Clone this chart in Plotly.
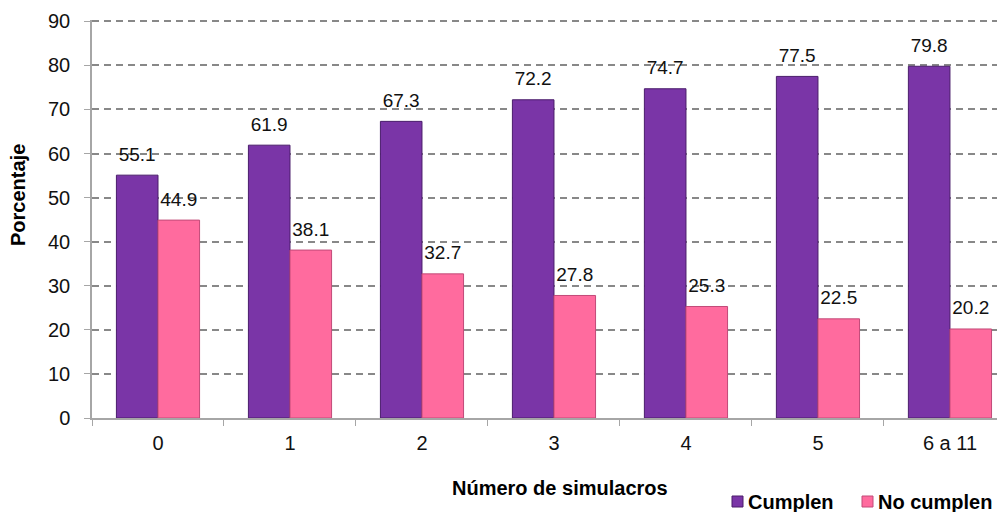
import plotly.graph_objects as go

categories = ["0", "1", "2", "3", "4", "5", "6 a 11"]
cumplen = [55.1, 61.9, 67.3, 72.2, 74.7, 77.5, 79.8]
no_cumplen = [44.9, 38.1, 32.7, 27.8, 25.3, 22.5, 20.2]
y_ticks = [0, 10, 20, 30, 40, 50, 60, 70, 80, 90]
series_names = ["Cumplen", "No cumplen"]
series_colors = ["#7A35A7", "#FF6B9E"]
series_edges = ["#4A1D6B", "#C24A78"]

FONT = "Liberation Sans, Arial"

# Figure sits 8px inside the page (default body margin); plot area spans page x 92..1005, y 20..418
W, H = 997, 504
L, R, T, B = 84, 0, 12, 94
PW, PH = W - L - R, H - T - B


def px(page_x):
    return (page_x - 8 - L) / PW


def py(page_y):
    return (H - B + 8 - page_y) / PH


fig = go.Figure()
for i, (name, vals, col, edge) in enumerate(zip(series_names, [cumplen, no_cumplen], series_colors, series_edges)):
    fig.add_trace(go.Bar(
        name=name, x=categories, y=vals, offsetgroup=str(i),
        marker=dict(color=col, line=dict(color=edge, width=1)),
        showlegend=False,
    ))
for i, (name, vals) in enumerate(zip(series_names, [cumplen, no_cumplen])):
    fig.add_trace(go.Scatter(
        name=name + " labels", x=categories, y=vals, offsetgroup=str(i),
        mode="markers+text", marker=dict(size=14, opacity=0),
        text=[f"{v:.1f}" for v in vals], textposition="top center",
        textfont=dict(family=FONT, size=19, color="#111"),
        cliponaxis=False, showlegend=False, hoverinfo="skip",
    ))

annotations = [
    dict(text="<b>Número de simulacros</b>", xref="paper", yref="paper",
         x=px(560), y=py(488), xanchor="center", yanchor="middle", showarrow=False,
         font=dict(size=20, color="#000")),
    dict(text="<b>Porcentaje</b>", xref="paper", yref="paper", textangle=-90,
         x=px(18), y=py(195), xanchor="center", yanchor="middle", showarrow=False,
         font=dict(size=20, color="#000")),
]
shapes = []
legend_sq_x = [732, 862]
legend_txt_x = [746, 876]
for name, col, edge, sx, tx in zip(series_names, series_colors, series_edges, legend_sq_x, legend_txt_x):
    shapes.append(dict(type="rect", xref="paper", yref="paper",
                       x0=px(sx), x1=px(sx + 11), y0=py(507), y1=py(496),
                       fillcolor=col, line=dict(color=edge, width=1)))
    annotations.append(dict(text=f"<b>{name}</b>", xref="paper", yref="paper",
                            x=px(tx), y=py(502), xanchor="left", yanchor="middle",
                            showarrow=False, font=dict(size=20, color="#000")))

fig.update_layout(
    width=W, height=H,
    margin=dict(l=L, r=R, t=T, b=B, autoexpand=False),
    paper_bgcolor="white", plot_bgcolor="white",
    barmode="group", bargap=0.37, bargroupgap=0,
    scattermode="group", scattergap=0.37,
    font=dict(family=FONT, size=20, color="#111"),
    showlegend=False,
    annotations=annotations, shapes=shapes,
)
fig.update_xaxes(
    type="category", range=[-0.5, 6.417], automargin=False,
    showline=True, linecolor="#A6A6A6", linewidth=1.5,
    ticks="outside", tickson="boundaries", ticklen=6, tickcolor="#A6A6A6",
    ticklabelstandoff=6,
    showgrid=False, tickfont=dict(size=20, color="#111"),
)
fig.update_yaxes(
    range=[0, 90.3], tickvals=y_ticks, automargin=False,
    showline=True, linecolor="#A6A6A6", linewidth=1.5,
    ticks="outside", ticklen=6, tickcolor="#A6A6A6",
    ticklabelstandoff=10,
    showgrid=True, gridcolor="#888888", griddash="7px,5px", gridwidth=2,
    zeroline=False,
    tickfont=dict(size=20, color="#111"),
)

fig.write_html("out.html")
